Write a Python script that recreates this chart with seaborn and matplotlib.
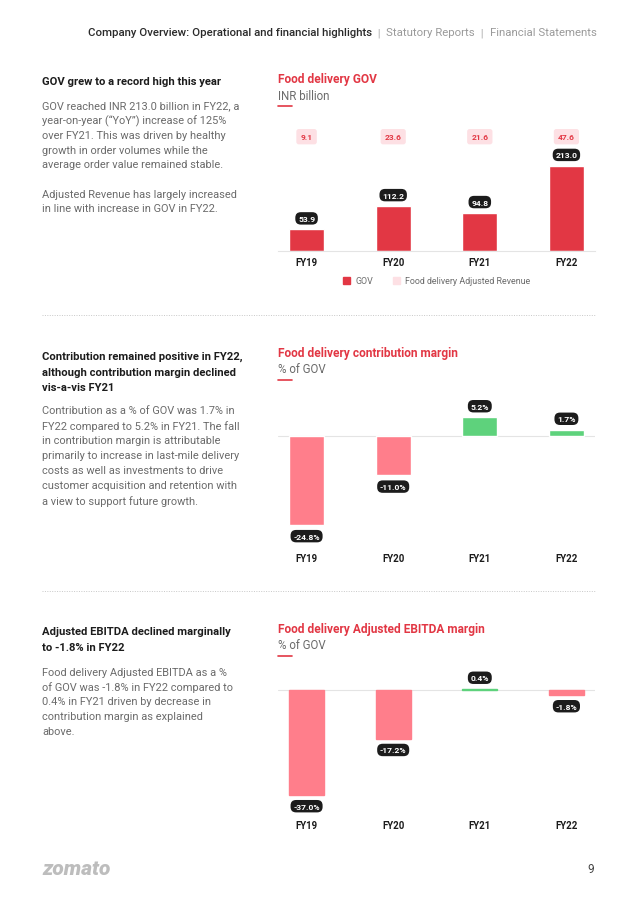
import numpy as np
import pandas as pd
import seaborn as sns
import matplotlib.pyplot as plt
from matplotlib.patches import Patch

# Дані
years = ["FY19", "FY20", "FY21", "FY22"]
gov = [53.9, 112.2, 94.8, 213.0]
adj_revenue = [9.1, 23.6, 21.6, 47.6]
contribution = [-24.8, -11.0, 5.2, 1.7]
ebitda = [-37.0, -17.2, 0.4, -1.8]

RED = "#E23744"
PINK = "#FF7E8B"
GREEN = "#5ED27C"
LIGHT_PINK = "#FDE0E4"
GREY_TXT = "#6B6B6B"
DARK = "#1C1C1C"

sns.set_theme(style="white")
plt.rcParams["font.family"] = ["Roboto", "DejaVu Sans"]

W, H = 638, 903
fig = plt.figure(figsize=(W / 100, H / 100), dpi=100)
fig.patch.set_facecolor("white")


def fx(px):
    return px / W


def fy(py):
    return 1 - py / H


def add_ax(left, top, right, bottom):
    return fig.add_axes([fx(left), fy(bottom), fx(right) - fx(left), (bottom - top) / H])


def pill(ax, x, y, txt, above):
    off = 8 if above else -8
    ax.annotate(txt, (x, y), xytext=(0, off), textcoords="offset points",
                ha="center", va="center", fontsize=6.1, fontweight="bold", color="white",
                bbox=dict(boxstyle="round,pad=0.32,rounding_size=0.65", fc=DARK, ec="none"),
                annotation_clip=False, zorder=5)


def style_ax(ax, baseline_bottom):
    ax.set_xlim(-0.33, 3.33)
    ax.set_xlabel("")
    ax.set_ylabel("")
    ax.set_yticks([])
    ax.tick_params(axis="x", length=0, labelsize=7, colors=DARK)
    for lab in ax.get_xticklabels():
        lab.set_fontweight("bold")
    for s in ["top", "right", "left"]:
        ax.spines[s].set_visible(False)
    if baseline_bottom:
        ax.spines["bottom"].set_color("#E4E4E4")
        ax.spines["bottom"].set_linewidth(0.8)
    else:
        ax.spines["bottom"].set_visible(False)
        ax.axhline(0, color="#E4E4E4", lw=0.8, zorder=0)


def chart_title(y, title, sub):
    fig.text(fx(278), fy(y), title, fontsize=8.6, fontweight="bold", color=RED, va="center")
    fig.text(fx(278), fy(y + 16), sub, fontsize=8.3, color=GREY_TXT, va="center")
    fig.add_artist(plt.Line2D([fx(278), fx(292)], [fy(y + 27), fy(y + 27)], color=RED, lw=1.2))


# --- GOV ---
ax1 = add_ax(278, 125, 595, 252)
df1 = pd.DataFrame({"year": years, "gov": gov})
sns.barplot(data=df1, x="year", y="gov", color=RED, saturation=1, width=0.4, ax=ax1)
ax1.set_ylim(0, 127 / 0.399)
style_ax(ax1, True)
ax1.tick_params(axis="x", pad=4)
for i, v in enumerate(gov):
    pill(ax1, i, v, f"{v:.1f}", True)
for i, v in enumerate(adj_revenue):
    ax1.text(i, 0.9, f"{v:.1f}", transform=ax1.get_xaxis_transform(), ha="center", va="center",
             fontsize=6, fontweight="bold", color=RED,
             bbox=dict(boxstyle="round,pad=0.5,rounding_size=0.3", fc=LIGHT_PINK, ec="none"))
chart_title(80, "Food delivery GOV", "INR billion")
handles = [Patch(color=RED, label="GOV"), Patch(color=LIGHT_PINK, label="Food delivery Adjusted Revenue")]
fig.legend(handles=handles, loc="center", bbox_to_anchor=(fx(437), fy(282)), ncol=2, frameon=False,
           fontsize=6.4, handlelength=0.8, handleheight=0.8, columnspacing=2.2, handletextpad=0.6,
           labelcolor=GREY_TXT)

# --- Contribution margin ---
ax2 = add_ax(278, 395, 595, 546)
df2 = pd.DataFrame({"year": years, "val": contribution,
                    "sign": ["neg" if v < 0 else "pos" for v in contribution]})
sns.barplot(data=df2, x="year", y="val", hue="sign", palette={"neg": PINK, "pos": GREEN},
            saturation=1, width=0.4, dodge=False, legend=False, ax=ax2)
ax2.set_ylim(-(546 - 437) / 3.59, (437 - 395) / 3.59)
style_ax(ax2, False)
ax2.tick_params(axis="x", pad=6)
for i, v in enumerate(contribution):
    pill(ax2, i, v, f"{v:.1f}%", v >= 0)
chart_title(354, "Food delivery contribution margin", "% of GOV")

# --- Adjusted EBITDA margin ---
ax3 = add_ax(278, 660, 595, 813)
df3 = pd.DataFrame({"year": years, "val": ebitda,
                    "sign": ["neg" if v < 0 else "pos" for v in ebitda]})
sns.barplot(data=df3, x="year", y="val", hue="sign", palette={"neg": PINK, "pos": GREEN},
            saturation=1, width=0.4, dodge=False, legend=False, ax=ax3)
# тонкі бари трохи обвести, щоб 0.4% було видно
for p in ax3.patches:
    p.set_edgecolor(p.get_facecolor())
    p.set_linewidth(1.0)
ax3.set_ylim(-(813 - 691) / 2.84, (691 - 660) / 2.84)
style_ax(ax3, False)
ax3.tick_params(axis="x", pad=6)
for i, v in enumerate(ebitda):
    pill(ax3, i, v, f"{v:.1f}%", v >= 0)
chart_title(630, "Food delivery Adjusted EBITDA margin", "% of GOV")


# --- Left column text ---
def block(lines, y0, step, bold):
    for k, line in enumerate(lines):
        fig.text(fx(42), fy(y0 + k * step), line, va="center",
                 fontsize=8.1 if bold else 7.9,
                 fontweight="bold" if bold else "normal",
                 color=DARK if bold else GREY_TXT)


block(["GOV grew to a record high this year"], 82, 15.5, True)
block(["GOV reached INR 213.0 billion in FY22, a",
       "year-on-year (\u201cYoY\u201d) increase of 125%",
       "over FY21. This was driven by healthy",
       "growth in order volumes while the",
       "average order value remained stable.",
       "",
       "Adjusted Revenue has largely increased",
       "in line with increase in GOV in FY22."], 106.5, 14.7, False)

block(["Contribution remained positive in FY22,",
       "although contribution margin declined",
       "vis-a-vis FY21"], 357, 15.5, True)
block(["Contribution as a % of GOV was 1.7% in",
       "FY22 compared to 5.2% in FY21. The fall",
       "in contribution margin is attributable",
       "primarily to increase in last-mile delivery",
       "costs as well as investments to drive",
       "customer acquisition and retention with",
       "a view to support future growth."], 411.5, 15, False)

block(["Adjusted EBITDA declined marginally",
       "to -1.8% in FY22"], 632, 16, True)
block(["Food delivery Adjusted EBITDA as a %",
       "of GOV was -1.8% in FY22 compared to",
       "0.4% in FY21 driven by decrease in",
       "contribution margin as explained",
       "above."], 673, 14.7, False)

# dotted separators
for yy in [316, 592]:
    fig.add_artist(plt.Line2D([fx(42), fx(596)], [fy(yy), fy(yy)], color="#C8C8C8",
                              lw=0.7, ls=(0, (1, 1.5))))

# --- header ---
renderer = fig.canvas.get_renderer()
parts = [("Company Overview: Operational and financial highlights", "#2A2A2A", "medium"),
         ("  |  ", "#B0B0B0", "normal"), ("Statutory Reports", "#9A9A9A", "normal"),
         ("  |  ", "#B0B0B0", "normal"), ("Financial Statements", "#9A9A9A", "normal")]
x = fx(88)
for txt, col, wt in parts:
    t = fig.text(x, fy(33), txt, fontsize=8.2, color=col, va="center", fontweight=wt)
    bb = t.get_window_extent(renderer)
    x = fx(bb.x1)

# --- footer ---
fig.text(fx(42), fy(870), "zomato", fontsize=15, fontweight="heavy", style="italic",
         color="#BDBDBD", va="center")
fig.text(fx(594), fy(870), "9", fontsize=8.5, color="#444444", va="center", ha="right")

plt.savefig("out.png", dpi=100, facecolor="white")
